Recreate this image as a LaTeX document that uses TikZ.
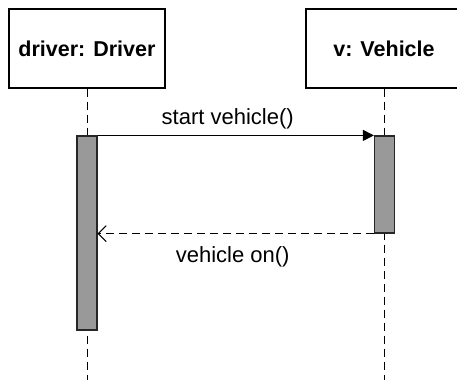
\documentclass[tikz,border=0pt]{standalone}
\usepackage{fontspec}
\setmainfont{Liberation Sans}
\usetikzlibrary{arrows.meta}

\tikzset{
  object/.style={draw, line width=1.3pt, minimum width=156pt, minimum height=79pt, font=\fontsize{21.5}{25}\selectfont\bfseries},
  activation/.style={draw=black!85, line width=1.2pt, fill=black!40, minimum width=20pt, inner sep=0pt},
  lifeline/.style={line width=1pt, dash pattern=on 8pt off 5pt},
  msg/.style={font=\fontsize{22}{26}\selectfont}
}

\begin{document}
\begin{tikzpicture}[x=1pt, y=-1pt]
\useasboundingbox (0,0) rectangle (457,380);
\clip (0,0) rectangle (457,380);

\node[object] (driver) at (87,48.5) {driver: Driver};
\node[object] (vehicle) at (384,48.5) {v: Vehicle};

\coordinate (dend) at (87,380);
\coordinate (vend) at (384,380);
\draw[lifeline] (driver) -- (dend);
\draw[lifeline] (vehicle) -- (vend);

\node[activation, minimum height=194pt] (dbar) at (87,233) {};
\node[activation, minimum height=97pt] (vbar) at (384.5,184.5) {};

\draw[line width=1pt, -{Triangle[length=11pt, width=11pt]}] (dbar.north east) -- node[msg, above=3pt, xshift=-8pt] {start vehicle()} (vbar.north west);
\draw[line width=1pt, dash pattern=on 8pt off 5pt, -{Straight Barb[length=8pt, width=16pt, line width=1pt]}] (vbar.south west) -- node[msg, below=9pt, xshift=-3pt] {vehicle on()} (dbar.east |- vbar.south);

\end{tikzpicture}
\end{document}
